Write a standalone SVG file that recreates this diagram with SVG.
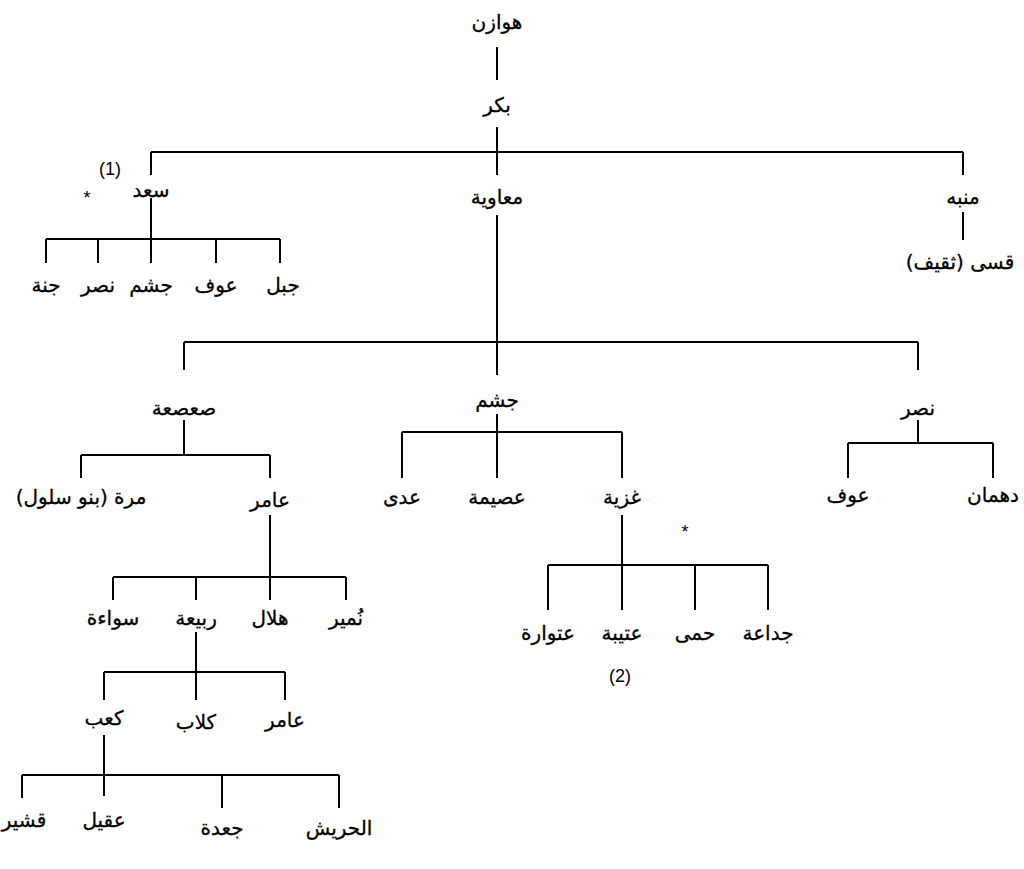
<svg xmlns="http://www.w3.org/2000/svg" width="1024" height="869" viewBox="0 0 1024 869">
<style>
.t{font-family:"DejaVu Sans",sans-serif;font-size:20px;fill:#000;stroke:#000;stroke-width:0.3;text-anchor:middle;direction:rtl;unicode-bidi:embed}
.n{font-family:"Liberation Sans",sans-serif;font-size:18px;fill:#000;text-anchor:middle}
.c path{fill:none;stroke:#000;stroke-width:2}
</style>
<rect width="1024" height="869" fill="#fff"/>
<g class="c" id="connectors">
<path d="M497 47V80"/>
<path d="M497 127V175M151 152H963M151 152V175M963 152V175"/>
<path d="M151 198V239M46 239H280M46 239V263M98 239V263M151 239V263M216 239V263M280 239V263"/>
<path d="M963 212V240"/>
<path d="M497 215V375M184 342H918M184 342V370M918 342V370"/>
<path d="M184 420V455M81 455H270M81 455V478M270 455V478"/>
<path d="M497 414V478M402 432H622M402 432V478M622 432V478"/>
<path d="M918 420V443M848 443H993M848 443V478M993 443V478"/>
<path d="M270 515V600M113 577H346M113 577V600M196 577V600M346 577V600"/>
<path d="M196 632V700M104 672H285M104 672V700M285 672V700"/>
<path d="M104 735V796M22 775H339M22 775V798M222 775V808M339 775V808"/>
<path d="M622 515V610M548 565H768M548 565V610M695 565V610M768 565V610"/>
</g>
<g id="n-hawazin"><text class="t" x="497" y="29">هوازن</text></g>
<g id="n-bakr"><text class="t" x="497" y="112">بكر</text></g>
<g id="n-saad"><text class="t" x="151" y="197">سعد</text><text class="n" x="110" y="175">(1)</text><text class="n" x="87" y="204">*</text></g>
<g id="n-muawiya"><text class="t" x="497" y="204">معاوية</text></g>
<g id="n-munabbih"><text class="t" x="963" y="204">منبه</text></g>
<g id="n-qasi"><text class="t" x="960" y="269">قسى (ثقيف)</text></g>
<g id="n-jinna"><text class="t" x="46" y="292">جنة</text></g>
<g id="n-nasr1"><text class="t" x="98" y="292">نصر</text></g>
<g id="n-jusham1"><text class="t" x="151" y="292">جشم</text></g>
<g id="n-awf1"><text class="t" x="216" y="292">عوف</text></g>
<g id="n-jabal"><text class="t" x="283" y="292">جبل</text></g>
<g id="n-sasaa"><text class="t" x="184" y="415">صعصعة</text></g>
<g id="n-jusham2"><text class="t" x="497" y="407">جشم</text></g>
<g id="n-nasr2"><text class="t" x="918" y="415">نصر</text></g>
<g id="n-murra"><text class="t" x="81" y="504">مرة (بنو سلول)</text></g>
<g id="n-amir1"><text class="t" x="270" y="507">عامر</text></g>
<g id="n-adi"><text class="t" x="402" y="504">عدى</text></g>
<g id="n-usayma"><text class="t" x="497" y="504">عصيمة</text></g>
<g id="n-ghaziyya"><text class="t" x="622" y="504">غزية</text><text class="n" x="685" y="538">*</text></g>
<g id="n-awf2"><text class="t" x="848" y="502">عوف</text></g>
<g id="n-dahman"><text class="t" x="993" y="502">دهمان</text></g>
<g id="n-suwaa"><text class="t" x="113" y="625">سواءة</text></g>
<g id="n-rabia"><text class="t" x="196" y="625">ربيعة</text></g>
<g id="n-hilal"><text class="t" x="270" y="625">هلال</text></g>
<g id="n-numayr"><text class="t" x="346" y="625">نُمير</text></g>
<g id="n-utwara"><text class="t" x="548" y="640">عتوارة</text></g>
<g id="n-utayba"><text class="t" x="622" y="640">عتيبة</text><text class="n" x="620" y="682">(2)</text></g>
<g id="n-hima"><text class="t" x="695" y="640">حمى</text></g>
<g id="n-judaa"><text class="t" x="768" y="640">جداعة</text></g>
<g id="n-kaab"><text class="t" x="104" y="725">كعب</text></g>
<g id="n-kilab"><text class="t" x="196" y="729">كلاب</text></g>
<g id="n-amir2"><text class="t" x="285" y="727">عامر</text></g>
<g id="n-qushayr"><text class="t" x="24" y="827">قشير</text></g>
<g id="n-uqayl"><text class="t" x="104" y="827">عقيل</text></g>
<g id="n-jaada"><text class="t" x="222" y="835">جعدة</text></g>
<g id="n-harish"><text class="t" x="339" y="835">الحريش</text></g>
</svg>
